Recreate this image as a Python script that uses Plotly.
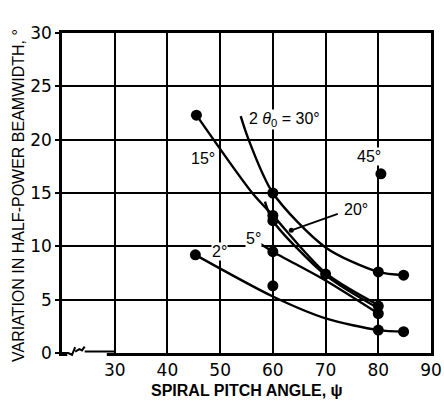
import plotly.graph_objects as go

# ---- data ----
x_30 = [53.9, 55.4, 60, 70, 80, 84.8]
y_30 = [22.2, 20.0, 15.0, 9.9, 7.6, 7.3]

x_15 = [45.5, 56.1, 60, 70, 80]
y_15 = [22.3, 15.0, 12.9, 7.5, 4.5]

x_20 = [58.5, 60, 70, 80]
y_20 = [14.2, 12.4, 7.3, 4.2]

x_5 = [57.1, 60, 70, 80]
y_5 = [10.4, 9.5, 6.8, 3.7]

x_2 = [45.3, 60, 70, 80, 84.8]
y_2 = [9.2, 5.3, 3.25, 2.15, 2.0]

# measured points (dots)
dots_x = [45.5, 60, 80, 84.8, 60, 60, 60, 70, 80, 80, 45.3, 80, 84.8, 60, 80.5]
dots_y = [22.3, 15.0, 7.6, 7.3, 12.9, 12.4, 9.5, 7.4, 4.4, 3.7, 9.2, 2.15, 2.0, 6.3, 16.8]

x_ticks = [30, 40, 50, 60, 70, 80, 90]
y_ticks = [0, 5, 10, 15, 20, 25, 30]

FONT = "DejaVu Sans"
FONT2 = "Liberation Sans"

fig = go.Figure()
for xs, ys in [(x_30, y_30), (x_15, y_15), (x_20, y_20), (x_5, y_5), (x_2, y_2)]:
    fig.add_trace(go.Scatter(x=xs, y=ys, mode="lines",
                             line=dict(color="black", width=2.4, shape="spline", smoothing=0.8),
                             showlegend=False, hoverinfo="skip"))
fig.add_trace(go.Scatter(x=dots_x, y=dots_y, mode="markers",
                         marker=dict(color="black", size=11), showlegend=False))

labels = [
    ("2 <i>θ</i><sub>0</sub> = 30°", 62.3, 21.9),
    ("15°", 46.7, 18.2),
    ("45°", 78.2, 18.4),
    ("20°", 75.7, 13.5),
    ("5°", 56.3, 10.7),
    ("2°", 49.9, 9.5),
]
for t, x, y in labels:
    fig.add_annotation(x=x, y=y, text=t, showarrow=False,
                       font=dict(family=FONT2, size=16, color="black"),
                       bgcolor="white", borderpad=0)

# pointer for 20°
fig.add_annotation(x=63.5, y=11.5, ax=72.6, ay=13.1, axref="x", ayref="y",
                   text="", showarrow=True, arrowhead=6, arrowsize=0.7,
                   arrowwidth=1.8, arrowcolor="black")

# axis break on x axis
fig.add_shape(type="rect", xref="x", yref="paper", x0=21.0, x1=28.5, y0=-0.012, y1=0.012,
              fillcolor="white", line=dict(width=0), layer="above")
fig.add_shape(type="path", xref="x", yref="paper",
              path="M 20 0 L 21.2 0 L 21.9 -0.006 L 22.5 0.018 M 22.5 0.004 L 23.3 0.012 L 23.8 0.008 L 24.3 0.02 M 24.3 0.005 L 30 0.005",
              line=dict(color="black", width=2), layer="above")

fig.add_annotation(xref="paper", yref="paper", x=0.5, y=-0.116, xanchor="center", yanchor="middle",
                   text="<b>SPIRAL PITCH ANGLE, ψ</b>", showarrow=False,
                   font=dict(family=FONT2, size=16, color="black"))
fig.add_annotation(xref="paper", yref="paper", x=-0.118, y=0.492, textangle=-90,
                   xanchor="center", yanchor="middle",
                   text="VARIATION IN HALF-POWER BEAMWIDTH, °", showarrow=False,
                   font=dict(family=FONT2, size=16, color="black"))

fig.update_xaxes(range=[20, 90], tickvals=x_ticks, ticktext=[str(v) for v in x_ticks],
                 showgrid=True, gridcolor="#000000", gridwidth=1.5,
                 showline=True, linecolor="black", linewidth=2.5, mirror=True,
                 ticks="", zeroline=False, automargin=False,
                 tickfont=dict(family=FONT, size=17, color="black"))
fig.update_yaxes(range=[0, 30], tickvals=y_ticks,
                 showgrid=True, gridcolor="#000000", gridwidth=1.5,
                 showline=True, linecolor="black", linewidth=2.5, mirror=True,
                 ticks="outside", ticklen=4, tickcolor="black", tickwidth=1.5,
                 zeroline=False, automargin=False,
                 tickfont=dict(family=FONT, size=17, color="black"))

fig.update_layout(width=444, height=403,
                  margin=dict(l=62, r=13, t=33, b=50),
                  plot_bgcolor="white", paper_bgcolor="white")

fig.write_html("out.html", config={"displayModeBar": False},
               post_script="document.body.style.margin='0';document.body.style.overflow='hidden';")
